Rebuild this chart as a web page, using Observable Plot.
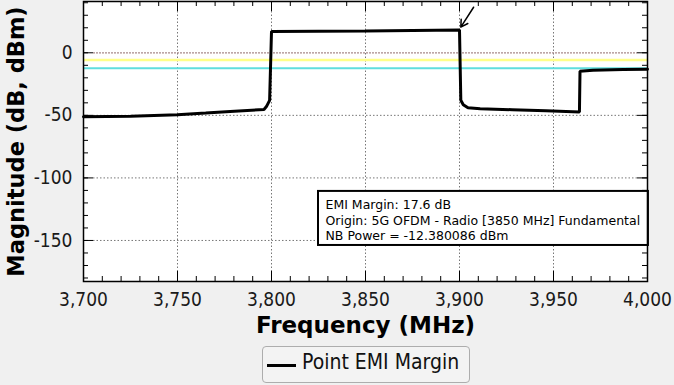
<!DOCTYPE html>
<html>
<head>
<meta charset="utf-8">
<script src="https://cdn.jsdelivr.net/npm/d3@7"></script>
<script src="https://cdn.jsdelivr.net/npm/@observablehq/plot@0.6"></script>
<style>
  html, body { margin: 0; padding: 0; background: #f0f0f0; width: 674px; height: 385px; overflow: hidden; }
  #legend { position: relative; height: 43px; }
  #legend .box { position: absolute; left: 262px; top: 4px; width: 206px; height: 35px; border: 1px solid #adadad; border-radius: 4px; background: #f3f3f3; }
  #legend .swatch { position: absolute; left: 4px; top: 17px; width: 29px; height: 3px; background: #000; }
  #legend .label { position: absolute; left: 39px; top: 3px; font: 21px "DejaVu Sans Condensed", "DejaVu Sans", sans-serif; color: #111; white-space: nowrap; }
</style>
</head>
<body>
<div id="chart"></div>
<div id="legend"><div class="box"><div class="swatch"></div><div class="label">Point EMI Margin</div></div></div>
<script>
// ---- data ----
const freq = [3700, 3725, 3750, 3765, 3778, 3796, 3797.3, 3799, 3800, 3850, 3900, 3900.7, 3902, 3904.5, 3911, 3928, 3946, 3963.8, 3964.1, 3971, 3987, 4000];
const margin = [-51.2, -50.8, -49.5, -48.2, -46.9, -45.3, -43, -38, 17.0, 17.4, 18.2, -38, -41.5, -44.0, -44.7, -45.5, -46.4, -47.4, -14.7, -13.9, -13.3, -13.1];

const xMajor = [3700, 3750, 3800, 3850, 3900, 3950, 4000];
const yMajor = [-150, -100, -50, 0];
const xGrid = [3750, 3800, 3850, 3900, 3950];
const yGrid = [-150, -100, -50];
const zeroLine = [0];
const yellowLimit = [-5.8];
const nbPower = [-12.380086];

const annotationLines = [
  "EMI Margin: 17.6 dB",
  "Origin: 5G OFDM - Radio [3850 MHz] Fundamental",
  "NB Power = -12.380086 dBm"
];
const annotationBox = [{x1: 3825, x2: 4000.5, y1: -154, y2: -110.8}];
const arrowAnn = [{x1: 3907.5, y1: 36.4, x2: 3900.7, y2: 20.5}];

const xLabel = "Frequency (MHz)";
const yLabel = "Magnitude (dB, dBm)";

// ---- chart ----
const W = 674, H = 342;
const mL = 83, mR = 27, mT = 1, mB = 61;
const plotW = W - mL - mR, plotH = H - mT - mB;
const xMinor = d3.range(3700, 4001, 10);
const yMinor = d3.range(-180, 41, 10);
const data = freq.map((f, i) => ({f, m: margin[i]}));
const tickFont = "'DejaVu Sans Condensed', 'DejaVu Sans', sans-serif";

const chart = Plot.plot({
  width: W, height: H,
  marginLeft: mL, marginRight: mR, marginTop: mT, marginBottom: mB,
  style: {background: "#f0f0f0", fontFamily: tickFont, fontSize: "19px", color: "#1a1a1a"},
  x: {domain: [3700, 4000]},
  y: {domain: [-182.8, 41]},
  marks: [
    Plot.frame({fill: "white", stroke: null}),
    // grid
    Plot.ruleX(xGrid, {x: d => d, stroke: "#777", strokeDasharray: "1.5,2", strokeWidth: 1, insetTop: 10, insetBottom: 10}),
    Plot.ruleY(yGrid, {y: d => d, stroke: "#777", strokeDasharray: "1.5,2", strokeWidth: 1, insetLeft: 10, insetRight: 10}),
    Plot.ruleY(zeroLine, {y: d => d, stroke: "#a88a8a", strokeDasharray: "2,1", strokeWidth: 1.3, insetLeft: 10, insetRight: 10}),
    Plot.ruleY(yellowLimit, {y: d => d, stroke: "#ffff8a", strokeWidth: 2.5}),
    Plot.ruleY(nbPower, {y: d => d, stroke: "#5fdede", strokeWidth: 2}),
    // ticks (inward)
    Plot.tickX(xMinor, {x: d => d, stroke: "#000", insetTop: plotH - 5}),
    Plot.tickX(xMinor, {x: d => d, stroke: "#000", insetBottom: plotH - 5}),
    Plot.tickX(xMajor, {x: d => d, stroke: "#000", insetTop: plotH - 10}),
    Plot.tickX(xMajor, {x: d => d, stroke: "#000", insetBottom: plotH - 10}),
    Plot.tickY(yMinor, {y: d => d, stroke: "#000", insetRight: plotW - 5}),
    Plot.tickY(yMinor, {y: d => d, stroke: "#000", insetLeft: plotW - 5}),
    Plot.tickY(yMajor, {y: d => d, stroke: "#000", insetRight: plotW - 10}),
    Plot.tickY(yMajor, {y: d => d, stroke: "#000", insetLeft: plotW - 10}),
    // curve
    Plot.line(data, {x: "f", y: "m", stroke: "#000", strokeWidth: 3, strokeLinejoin: "miter"}),
    // arrow
    Plot.arrow(arrowAnn, {x1: "x1", y1: "y1", x2: "x2", y2: "y2", stroke: "#000", strokeWidth: 1.5, headLength: 9}),
    // annotation box
    Plot.rect(annotationBox, {x1: "x1", x2: "x2", y1: "y1", y2: "y2", fill: "white", stroke: "#000", strokeWidth: 2}),
    Plot.text(annotationBox, {x: "x1", y: "y2", text: () => annotationLines.join("\n"), dx: 7, dy: 7, lineAnchor: "top", textAnchor: "start", lineHeight: 1.23, fontSize: 12.5, fontFamily: "'DejaVu Sans', sans-serif", fill: "#000"}),
    Plot.frame({stroke: "#000", strokeWidth: 1.5}),
    // axes
    Plot.axisX(xMajor, {anchor: "bottom", tickSize: 0, tickPadding: 11, tickFormat: d3.format(","), label: null}),
    Plot.axisY(yMajor, {anchor: "left", tickSize: 0, tickPadding: 11, tickFormat: d => String(d), label: null}),
    // axis titles
    Plot.text([xLabel], {frameAnchor: "bottom", text: d => d, dy: 44.6, lineAnchor: "middle", textAnchor: "middle", fontSize: 23, fontWeight: "bold", fontFamily: "'DejaVu Sans', sans-serif", fill: "#000"}),
    Plot.text([yLabel], {frameAnchor: "left", text: d => d, dx: -67, rotate: -90, lineAnchor: "middle", textAnchor: "middle", fontSize: 22.5, fontWeight: "bold", fontFamily: "'DejaVu Sans', sans-serif", fill: "#000"})
  ]
});
document.getElementById("chart").appendChild(chart);
</script>
</body>
</html>
